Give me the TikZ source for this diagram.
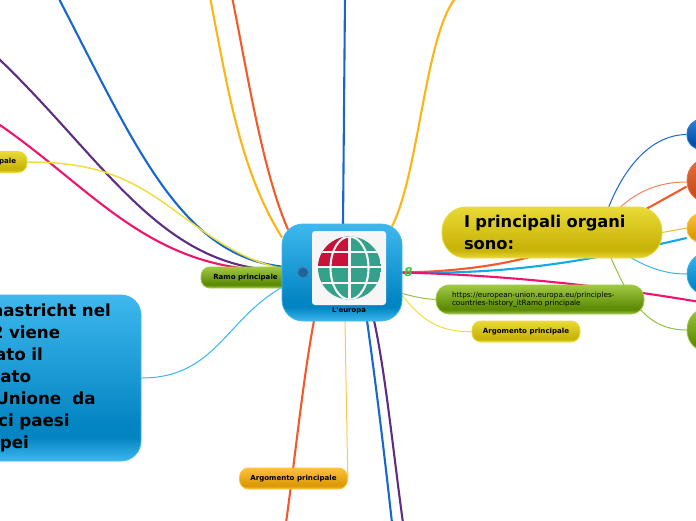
\documentclass[tikz,border=0pt]{standalone}
\usepackage{fontspec}
\newfontfamily\dv{DejaVu Sans}
\usetikzlibrary{backgrounds}
\definecolor{eBlue}{HTML}{1767CF}
\definecolor{ePurple}{HTML}{5C2D82}
\definecolor{ePink}{HTML}{F0146E}
\definecolor{eOrange}{HTML}{FDB515}
\definecolor{eRed}{HTML}{F25A29}
\definecolor{eYellow}{HTML}{F0DE3C}
\definecolor{eSky}{HTML}{12A9EC}
\definecolor{eGreen}{HTML}{95C23A}
\definecolor{tealg}{HTML}{36A18B}
\definecolor{redg}{HTML}{C8123A}
\definecolor{toggleFill}{HTML}{1F6398}
\definecolor{toggleRing}{HTML}{3E7FB0}
\definecolor{markGreen}{HTML}{3CC83C}
\newcommand{\barshade}[4]{\pgfdeclareverticalshading{#1}{100bp}{color(0bp)=(#2); color(25bp)=(#2); color(32bp)=(#3); color(36bp)=(#3); color(75bp)=(#4); color(100bp)=(#4)}}
\definecolor{yA}{HTML}{E9DA36}\definecolor{yB}{HTML}{C9B409}
\definecolor{gA}{HTML}{A0C943}\definecolor{gB}{HTML}{5E8C06}
\definecolor{oA}{HTML}{FEC13A}\definecolor{oB}{HTML}{DC9A08}
\definecolor{bA}{HTML}{3EB8EE}\definecolor{bB}{HTML}{0485C3}
\definecolor{dA}{HTML}{2F7FD8}\definecolor{dB}{HTML}{0450A8}
\definecolor{rA}{HTML}{E8703F}\definecolor{rB}{HTML}{C74E1D}
\barshade{yellowbar}{yA}{yB}{yA}
\barshade{greenbar}{gA}{gB}{gA}
\barshade{orangebar}{oA}{oB}{oA}
\barshade{bluebar}{bA}{bB}{bA}
\barshade{navybar}{dA}{dB}{dA}
\barshade{redbar}{rA}{rB}{rA}
\tikzset{
  box/.style={rectangle,inner sep=0pt,line width=.8pt,text=black},
  yellowbox/.style={box,shading=yellowbar,draw=yA},
  greenbox/.style={box,shading=greenbar,draw=gA},
  orangebox/.style={box,shading=orangebar,draw=oA},
  bluebox/.style={box,shading=bluebar,draw=bA},
  navybox/.style={box,shading=navybar,draw=dA},
  redbox/.style={box,shading=redbar,draw=rA},
  small/.style={font=\dv\bfseries\fontsize{7.05}{8}\selectfont,minimum height=21pt,minimum width=108pt,rounded corners=9pt},
  big/.style={font=\dv\bfseries\fontsize{16.7}{22}\selectfont,align=left},
  thick line/.style={line width=2.1pt},
  thin line/.style={line width=1pt},
}
\begin{document}
\begin{tikzpicture}[x=1pt,y=-1pt]
\useasboundingbox (0,0) rectangle (696,520);
% nodes
\node[greenbox,small,minimum width=89pt] (ramo) at (245.5,277.5) {Ramo principale};
\node[yellowbox,small] (argl) at (-27,162) {Argomento principale};
\node[yellowbox,small] (argr) at (526,331.5) {Argomento principale};
\node[orangebox,small] (argb) at (293.5,478.5) {Argomento principale};
\node[greenbox,minimum width=208pt,minimum height=29pt,rounded corners=13pt,
  font=\dv\fontsize{7.25}{8.4}\selectfont,align=left,text width=176pt] (link) at (540,299.5)
  {https://european-union.europa.eu/principles-\\countries-history\_itRamo principale};
\node[yellowbox,big,font=\dv\bfseries\fontsize{16.25}{19.5}\selectfont,minimum width=220pt,minimum height=51pt,rounded corners=24pt,text width=176pt] (organi) at (552,232.5)
  {\vspace*{3pt}I principali organi\\sono:};
\node[bluebox,big,minimum width=208pt,minimum height=166pt,rounded corners=20pt,text width=160pt] (maas) at (37,378)
  {A Maastricht nel\\1992 viene\\firmato il\\trattato\\sull'Unione\ \ da\\dodici paesi\\europei};
\node[navybox,minimum width=60pt,minimum height=30pt,rounded corners=14pt] (r1) at (717,134.5) {};
\node[redbox,minimum width=60pt,minimum height=45pt,rounded corners=22pt] (r2) at (717,180.5) {};
\node[orangebox,minimum width=60pt,minimum height=29pt,rounded corners=14pt] (r3) at (717,228) {};
\node[bluebox,minimum width=60pt,minimum height=43pt,rounded corners=21pt] (r4) at (717,274) {};
\node[greenbox,minimum width=60pt,minimum height=45pt,rounded corners=22pt] (r5) at (717,330) {};
\node[bluebox,minimum width=120pt,minimum height=97pt,rounded corners=21pt] (central) at (342,272.5) {};
\node[rectangle,fill=white!93!gray,minimum width=74pt,minimum height=74pt,rounded corners=3pt,inner sep=0pt] (pic) at (349,268) {};
\node[font=\dv\bfseries\fontsize{6.9}{8}\selectfont,inner sep=0pt] (title) at (349,311) {L'europa};
\node[circle,fill=toggleFill,draw=toggleRing,minimum size=10.5pt,inner sep=0pt,line width=.7pt] (toggle) at (303,272.5) {};
\node[font=\dv\bfseries\fontsize{12}{12}\selectfont,text=markGreen,inner sep=0pt,xslant=.15] (mark) at (408.5,272.5) {8};
% globe
\begin{scope}
\clip (349.5,268) circle[radius=31.5pt];
\fill[tealg] (318,236) rectangle (381,300);
\fill[redg] (318,236) rectangle (349.5,267.5);
\draw[white!93!gray,line width=2.1pt] (318,251.7) -- (381,251.7) (318,267.4) -- (381,267.4) (318,283) -- (381,283) (349.5,236) -- (349.5,300);
\draw[white!93!gray,line width=2.1pt] (349.5,268) ellipse[x radius=19pt,y radius=31.5pt];
\end{scope}
% free ends
\coordinate (ftop) at (345,-3);
\coordinate (ftr) at (458,-5);
\coordinate (ftl1) at (210,-3);
\coordinate (ftl2) at (232,-3);
\coordinate (fl1) at (58,-3);
\coordinate (fl2) at (-3,57);
\coordinate (fl3) at (-3,123);
\coordinate (fb1) at (286,523);
\coordinate (fb2) at (392,523);
\coordinate (fb3) at (403,523);
\coordinate (fr) at (700,302);
\coordinate (org) at (organi.center);
% connectors
\begin{pgfonlayer}{background}
\draw[thick line,eBlue] ([xshift=1pt,yshift=48pt]central.center) -- (ftop);
\draw[thick line,eOrange] ([xshift=50pt,yshift=46pt]central.center) .. controls (420,170) and (425,30) .. (ftr);
\draw[thick line,eOrange] ([xshift=-60pt,yshift=35pt]central.center) .. controls (240,170) and (228,90) .. (ftl1);
\draw[thick line,eRed] ([xshift=-54pt,yshift=43pt]central.center) .. controls (262,170) and (247,70) .. (ftl2);
\draw[thick line,eBlue] ([yshift=6pt]central.west) .. controls (180,255) and (135,145) .. (fl1);
\draw[thick line,ePurple] ([yshift=2pt]central.west) .. controls (160,268) and (105,160) .. (fl2);
\draw[thick line,ePink] ([yshift=2pt]central.west) .. controls (150,272) and (95,190) .. (fl3);
\draw[eYellow,line width=1.5pt] (argl.east) .. controls (90,162) and (125,175) .. (167,205) .. controls (205,232) and (235,258) .. ([yshift=4pt]central.west);
\draw[eSky!85!white,thin line] (maas.east) .. controls (215,378) and (225,320) .. ([yshift=-15pt]central.west);
\draw[thick line,eRed] (central.east) .. controls (540,270) and (600,235) .. ([yshift=-6pt]r2.west);
\draw[thick line,eSky] (central.east) .. controls (520,275) and (600,258) .. ([yshift=-10pt]r3.west);
\draw[thick line,ePink] (central.east) .. controls (500,275) and (600,285) .. (fr);
\draw[eBlue,thin line] ([xshift=50pt,yshift=5pt]org) .. controls (612,190) and (640,135) .. (r1.west);
\draw[eRed!75!white,thin line] ([xshift=50pt,yshift=5pt]org) .. controls (630,190) and (660,182) .. ([yshift=-1.5pt]r2.west);
\draw[eYellow!60!orange,thin line] (organi.east) -- (r3.west);
\draw[eSky!85!white,thin line] ([xshift=50pt,yshift=-5pt]org) .. controls (640,268) and (665,274) .. (r4.west);
\draw[eGreen,thin line] ([xshift=50pt,yshift=-5pt]org) .. controls (625,290) and (640,330) .. (r5.west);
\draw[eGreen,thin line] ([yshift=-21pt]central.east) .. controls (415,297) and (425,299) .. (link.west);
\draw[eYellow,thin line] ([yshift=-23pt]central.east) .. controls (425,325) and (445,332) .. (argr.west);
\draw[thick line,eRed] ([xshift=-28pt,yshift=-48pt]central.center) .. controls (303,380) and (296,450) .. (fb1);
\draw[eOrange!75!white,thin line] ([xshift=3pt,yshift=-48pt]central.center) .. controls (346,380) and (347,440) .. (argb.east);
\draw[thick line,eBlue] ([xshift=25pt,yshift=-48pt]central.center) .. controls (378,400) and (385,460) .. (fb2);
\draw[thick line,ePurple] ([xshift=32pt,yshift=-48pt]central.center) .. controls (385,370) and (393,450) .. (fb3);
\end{pgfonlayer}
\end{tikzpicture}
\end{document}
